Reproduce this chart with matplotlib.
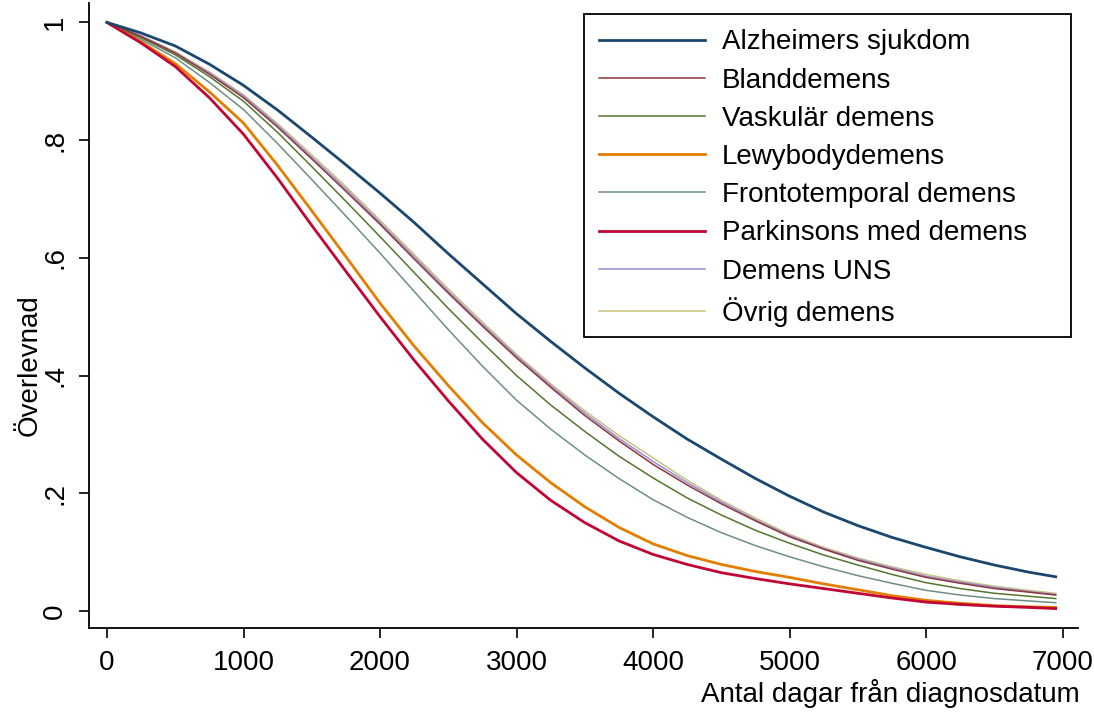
import matplotlib
matplotlib.use("Agg")
import matplotlib.pyplot as plt
from matplotlib.patches import Rectangle

plt.rcParams['font.family'] = ['Liberation Sans', 'DejaVu Sans']

# dagar fran diagnos
days = [0, 250, 500, 750, 1000, 1250, 1500, 1750, 2000, 2250, 2500, 2750, 3000, 3250, 3500,
        3750, 4000, 4250, 4500, 4750, 5000, 5250, 5500, 5750, 6000, 6250, 6500, 6750, 6950]

# overlevnad per diagnos, avlast fran bilden
alzheimer = [1.0, 0.982, 0.960, 0.929, 0.893, 0.851, 0.805, 0.758, 0.710, 0.660, 0.607, 0.556, 0.505, 0.458, 0.413,
             0.370, 0.330, 0.292, 0.258, 0.225, 0.195, 0.168, 0.145, 0.125, 0.108, 0.092, 0.078, 0.066, 0.058]
bland = [1.0, 0.976, 0.948, 0.912, 0.872, 0.822, 0.768, 0.713, 0.657, 0.598, 0.540, 0.484, 0.430, 0.380, 0.332,
         0.289, 0.249, 0.214, 0.182, 0.153, 0.126, 0.105, 0.086, 0.071, 0.057, 0.047, 0.038, 0.032, 0.027]
vaskular = [1.0, 0.974, 0.945, 0.908, 0.866, 0.813, 0.755, 0.696, 0.636, 0.575, 0.514, 0.456, 0.400, 0.350, 0.305,
            0.263, 0.226, 0.192, 0.163, 0.137, 0.115, 0.095, 0.078, 0.062, 0.048, 0.038, 0.030, 0.025, 0.021]
lewy = [1.0, 0.967, 0.930, 0.882, 0.829, 0.757, 0.680, 0.602, 0.523, 0.450, 0.383, 0.320, 0.265, 0.218, 0.177,
        0.142, 0.114, 0.094, 0.079, 0.067, 0.057, 0.046, 0.036, 0.026, 0.018, 0.013, 0.009, 0.007, 0.006]
fronto = [1.0, 0.971, 0.940, 0.898, 0.852, 0.794, 0.733, 0.671, 0.608, 0.543, 0.478, 0.416, 0.358, 0.309, 0.265,
          0.225, 0.189, 0.159, 0.133, 0.111, 0.092, 0.075, 0.060, 0.047, 0.035, 0.027, 0.021, 0.017, 0.014]
parkinson = [1.0, 0.965, 0.925, 0.872, 0.810, 0.735, 0.655, 0.577, 0.500, 0.426, 0.357, 0.292, 0.235, 0.188, 0.150,
             0.119, 0.096, 0.079, 0.065, 0.055, 0.046, 0.038, 0.030, 0.022, 0.015, 0.011, 0.008, 0.006, 0.004]
uns = [1.0, 0.977, 0.949, 0.914, 0.875, 0.825, 0.771, 0.717, 0.660, 0.602, 0.543, 0.487, 0.433, 0.383, 0.336,
       0.293, 0.254, 0.218, 0.185, 0.155, 0.128, 0.106, 0.088, 0.073, 0.059, 0.049, 0.040, 0.033, 0.028]
ovrig = [1.0, 0.977, 0.950, 0.916, 0.877, 0.828, 0.775, 0.721, 0.664, 0.606, 0.547, 0.491, 0.436, 0.386, 0.340,
         0.298, 0.260, 0.222, 0.188, 0.158, 0.130, 0.108, 0.090, 0.075, 0.062, 0.051, 0.042, 0.035, 0.030]

labels = ["Alzheimers sjukdom", "Blanddemens", "Vaskulär demens", "Lewybodydemens",
          "Frontotemporal demens", "Parkinsons med demens", "Demens UNS", "Övrig demens"]
series = [alzheimer, bland, vaskular, lewy, fronto, parkinson, uns, ovrig]
# stata s2color
colors = ["#1a476f", "#90353b", "#55752f", "#e37e00", "#6e8e84", "#c10534", "#938dd2", "#cac27e"]
widths = [2.0, 1.1, 1.1, 2.0, 1.1, 2.0, 1.1, 1.1]

fig = plt.figure(figsize=(10.94, 7.14), dpi=100)
ax = fig.add_axes([89/1094, 1 - 628/714, 989/1094, 625/714])

# draw back to front so the thick ones sit on top
order = [7, 6, 4, 2, 1, 3, 5, 0]
lines = {}
for i in order:
    lines[i], = ax.plot(days, series[i], color=colors[i], lw=widths[i], label=labels[i])

ax.set_xlim(-132, 7113)
ax.set_ylim(-0.029, 1.033)

ax.set_xticks([0, 1000, 2000, 3000, 4000, 5000, 6000, 7000])
ax.set_yticks([0, 0.2, 0.4, 0.6, 0.8, 1.0])
ax.set_yticklabels(["0", ".2", ".4", ".6", ".8", "1"], rotation=90, va='center')

ax.tick_params(axis='both', direction='out', length=7, width=1.2, labelsize=20, color='black')
ax.tick_params(axis='x', pad=9)
ax.tick_params(axis='y', pad=8)

for s in ['top', 'right']:
    ax.spines[s].set_visible(False)
for s in ['left', 'bottom']:
    ax.spines[s].set_linewidth(1.3)

ax.set_ylabel("Överlevnad", fontsize=20)
ax.yaxis.set_label_coords(-0.047, 0.42)
ax.set_xlabel("Antal dagar från diagnosdatum", fontsize=20, ha='right')
ax.xaxis.set_label_coords(1.002, -0.082)

# legend without frame, box drawn separately (stata leaves extra room on the right)
leg = ax.legend([lines[i] for i in range(8)], labels, loc='upper left',
                bbox_to_anchor=(584/1094, 1 - 14/714), bbox_transform=fig.transFigure,
                fontsize=20, frameon=False, borderaxespad=0,
                labelspacing=0.44, handlelength=3.8, handletextpad=0.6, borderpad=0.55)
box = Rectangle((584/1094, 1 - 337/714), (1071 - 584)/1094, (337 - 14)/714,
                transform=fig.transFigure, fill=False, edgecolor='black', lw=1.3, zorder=10)
fig.patches.append(box)

fig.savefig("out.png", dpi=100)
